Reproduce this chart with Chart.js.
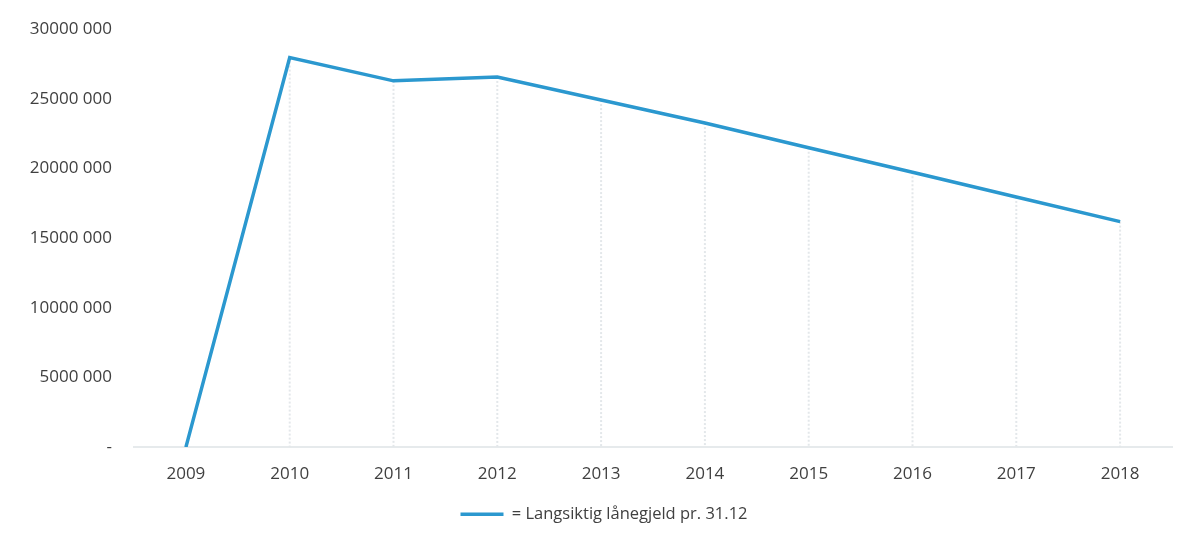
<!DOCTYPE html>
<html>
<head>
<meta charset="utf-8">
<title>Langsiktig lånegjeld</title>
<script src="https://cdn.jsdelivr.net/npm/chart.js@4/dist/chart.umd.min.js"></script>
<style>
  html, body { margin: 0; padding: 0; background: #fff; }
  #wrap { width: 1188px; height: 535px; position: relative; }
</style>
</head>
<body>
<div id="wrap"><canvas id="chart1"></canvas></div>
<script>
(function(){
  'use strict';

  // data
  var years = ['2009', '2010', '2011', '2012', '2013', '2014', '2015', '2016', '2017', '2018'];
  var gjeld = [0, 27950000, 26280000, 26560000, 24900000, 23250000, 21480000, 19720000, 17950000, 16180000];
  var yTicks = [0, 5000000, 10000000, 15000000, 20000000, 25000000, 30000000];
  var seriesName = '= Langsiktig lånegjeld pr. 31.12';

  var blue = '#2b98cf';
  var textColor = '#404040';

  // faint dotted drop lines from each point down to the axis
  var dropLines = {
    id: 'dropLines',
    beforeDatasetsDraw: function(chart) {
      var ctx = chart.ctx;
      var meta = chart.getDatasetMeta(0);
      var base = chart.scales.y.getPixelForValue(0);
      ctx.save();
      ctx.strokeStyle = '#e3e7ea';
      ctx.lineWidth = 2;
      ctx.setLineDash([2, 2]);
      for (var i = 1; i < meta.data.length; i++) {
        var pt = meta.data[i];
        ctx.beginPath();
        ctx.moveTo(pt.x, pt.y);
        ctx.lineTo(pt.x, base);
        ctx.stroke();
      }
      ctx.restore();
    }
  };

  // legend sits a bit right of the canvas centre in the original
  var legendShift = {
    id: 'legendShift',
    afterLayout: function(chart) {
      if (chart.legend) {
        chart.legend.left += 18;
        chart.legend.right += 18;
      }
    }
  };

  function fmt(v) {
    if (v === 0) return '-';
    return Math.round(v / 1000) + ' 000';
  }

  var c1 = document.getElementById('chart1');
  new Chart(c1, {
    type: 'line',
    data: {
      labels: years,
      datasets: [{
        label: seriesName,
        data: gjeld,
        borderColor: blue,
        backgroundColor: blue,
        borderWidth: 3.5,
        pointRadius: 0,
        pointStyle: 'line',
        tension: 0
      }]
    },
    plugins: [dropLines, legendShift],
    options: {
      responsive: true,
      maintainAspectRatio: false,
      animation: false,
      layout: {
        padding: { left: 0, right: 16, top: 29, bottom: 2.5 }
      },
      plugins: {
        legend: {
          position: 'bottom',
          labels: {
            color: textColor,
            font: { family: 'Open Sans', size: 16.5 },
            usePointStyle: true,
            pointStyleWidth: 43,
            padding: 4.5
          }
        },
        tooltip: { enabled: false }
      },
      scales: {
        x: {
          offset: true,
          grid: {
            display: true,
            drawOnChartArea: false,
            drawTicks: false,
            color: 'rgba(0,0,0,0)'
          },
          border: { display: true, color: '#e6eaec', width: 2 },
          ticks: {
            color: textColor,
            font: { family: 'Open Sans', size: 17 },
            padding: 17
          }
        },
        y: {
          min: 0,
          max: 30000000,
          afterFit: function(scale) { scale.width = 134; },
          afterBuildTicks: function(scale) {
            scale.ticks = yTicks.map(function(v){ return { value: v }; });
          },
          grid: {
            display: true,
            drawOnChartArea: false,
            drawTicks: true,
            tickLength: 18,
            color: 'rgba(0,0,0,0)'
          },
          border: { display: false },
          ticks: {
            color: textColor,
            font: { family: 'Open Sans', size: 17 },
            padding: 4,
            callback: function(v) { return fmt(v); }
          }
        }
      }
    }
  });

}());
</script>
</body>
</html>
